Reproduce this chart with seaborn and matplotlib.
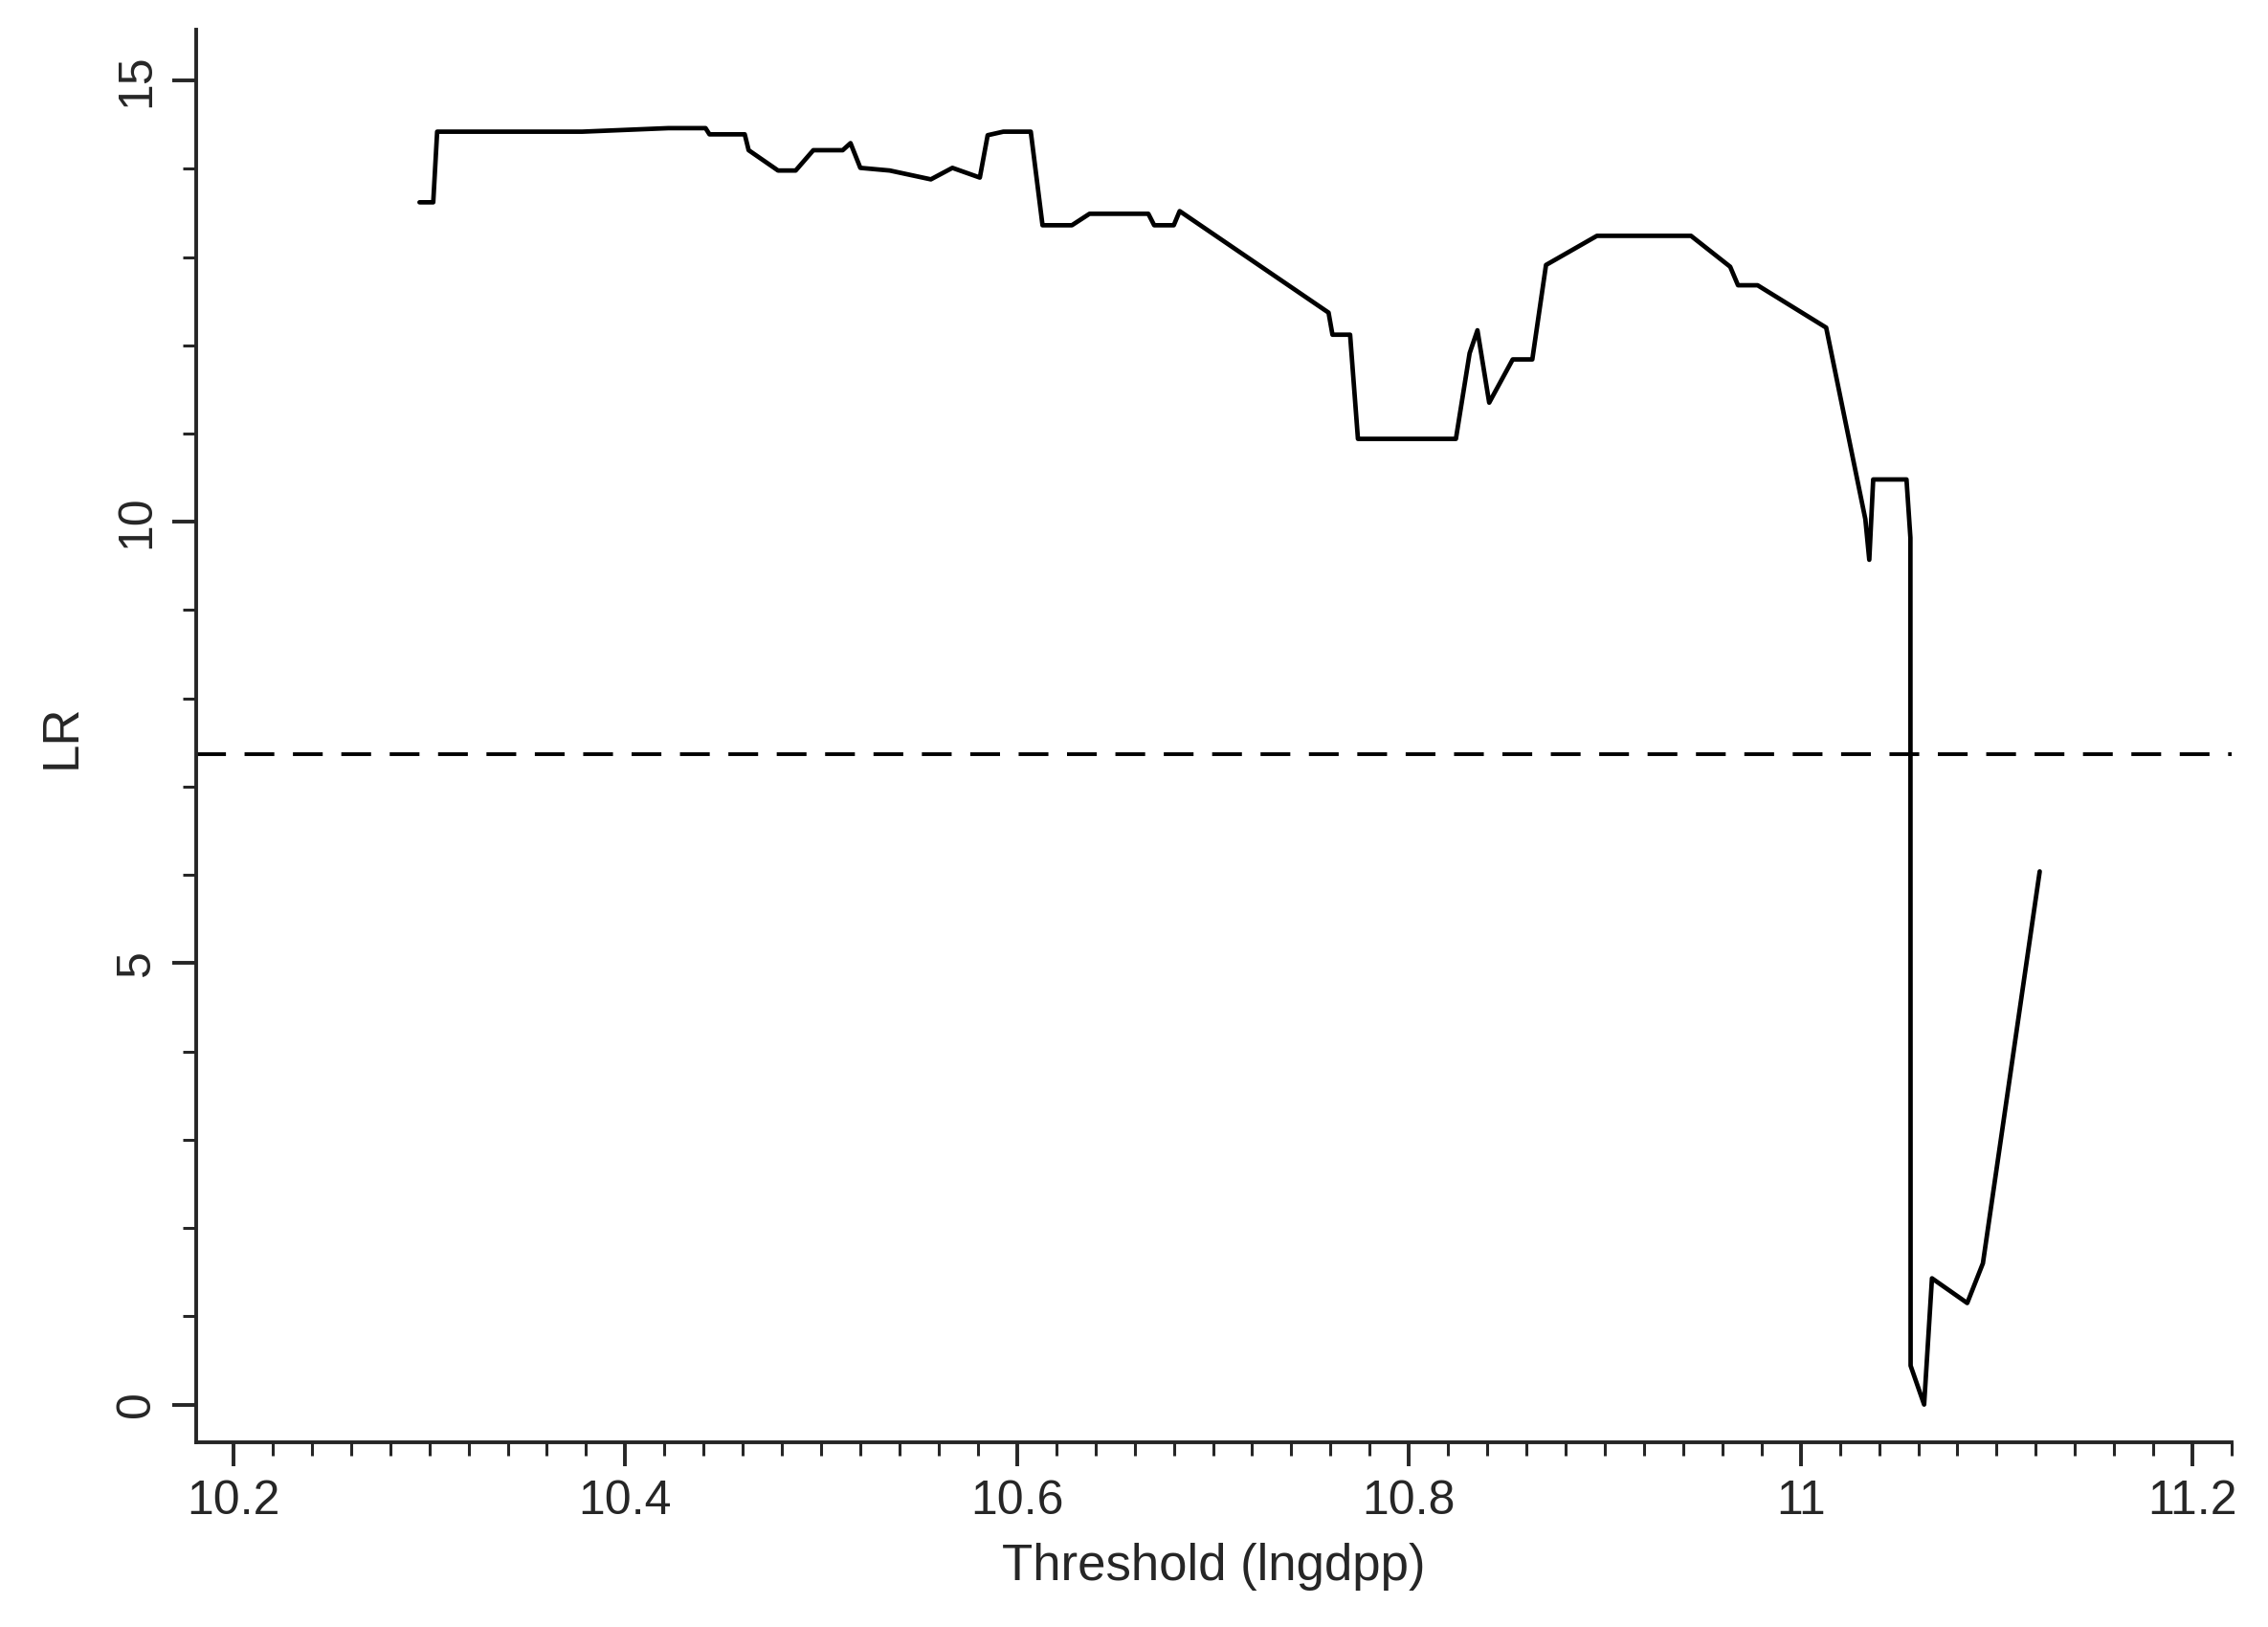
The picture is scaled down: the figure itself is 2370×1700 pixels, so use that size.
import seaborn as sns
import pandas as pd
import matplotlib.pyplot as plt
from matplotlib.ticker import MultipleLocator

threshold = [10.295, 10.302, 10.304, 10.378, 10.422, 10.441, 10.443, 10.461, 10.463, 10.478,
             10.487, 10.496, 10.511, 10.515, 10.520, 10.535, 10.556, 10.567, 10.581, 10.585,
             10.593, 10.607, 10.613, 10.628, 10.637, 10.667, 10.670, 10.680, 10.683, 10.759,
             10.761, 10.770, 10.774, 10.824, 10.831, 10.835, 10.841, 10.853, 10.863, 10.870,
             10.896, 10.944, 10.964, 10.968, 10.978, 11.013, 11.033, 11.035, 11.037, 11.054,
             11.056, 11.0561, 11.063, 11.067, 11.085, 11.093, 11.122]
lr = [13.62, 13.62, 14.42, 14.42, 14.46, 14.46, 14.39, 14.39, 14.21, 13.98,
      13.98, 14.21, 14.21, 14.29, 14.01, 13.98, 13.88, 14.01, 13.90, 14.38,
      14.42, 14.42, 13.36, 13.36, 13.49, 13.49, 13.36, 13.36, 13.52, 12.37,
      12.12, 12.12, 10.94, 10.94, 11.91, 12.17, 11.35, 11.84, 11.84, 12.91,
      13.24, 13.24, 12.89, 12.68, 12.68, 12.20, 10.03, 9.57, 10.48, 10.48,
      9.82, 0.44, 0.00, 1.43, 1.15, 1.60, 6.04]
critical_value = 7.37

df = pd.DataFrame({"Threshold": threshold, "LR": lr})

sns.set_style("ticks")
plt.rcParams['font.family'] = ['Liberation Sans', 'DejaVu Sans']

fig = plt.figure(figsize=(23.7, 17), dpi=100)
ax = fig.add_axes([0.0865, 0.1134, 0.8975, 0.8686])

sns.lineplot(data=df, x="Threshold", y="LR", sort=False, color="black", linewidth=3.4, ax=ax)
ax.axhline(critical_value, color="black", linestyle=(0, (8, 5)), linewidth=2.8)

ax.set_xlim(10.181, 11.22)
ax.set_ylim(-0.43, 15.58)
ax.set_xticks([10.2, 10.4, 10.6, 10.8, 11, 11.2])
ax.set_xticklabels(["10.2", "10.4", "10.6", "10.8", "11", "11.2"])
ax.set_yticks([0, 5, 10, 15])
ax.xaxis.set_minor_locator(MultipleLocator(0.02))
ax.yaxis.set_minor_locator(MultipleLocator(1))
ax.tick_params(axis="both", which="major", labelsize=36, length=18, width=2.8, direction="out", pad=10)
ax.tick_params(axis="both", which="minor", length=10, width=2.2)
for lab in ax.get_yticklabels():
    lab.set_rotation(90)
    lab.set_va("center")

ax.set_xlabel("Threshold (lngdpp)", fontsize=38, labelpad=14)
ax.set_ylabel("LR", fontsize=38, labelpad=22)
for s in ["left", "bottom"]:
    ax.spines[s].set_linewidth(2.8)
sns.despine(ax=ax)

fig.savefig("out.png", dpi=100)
